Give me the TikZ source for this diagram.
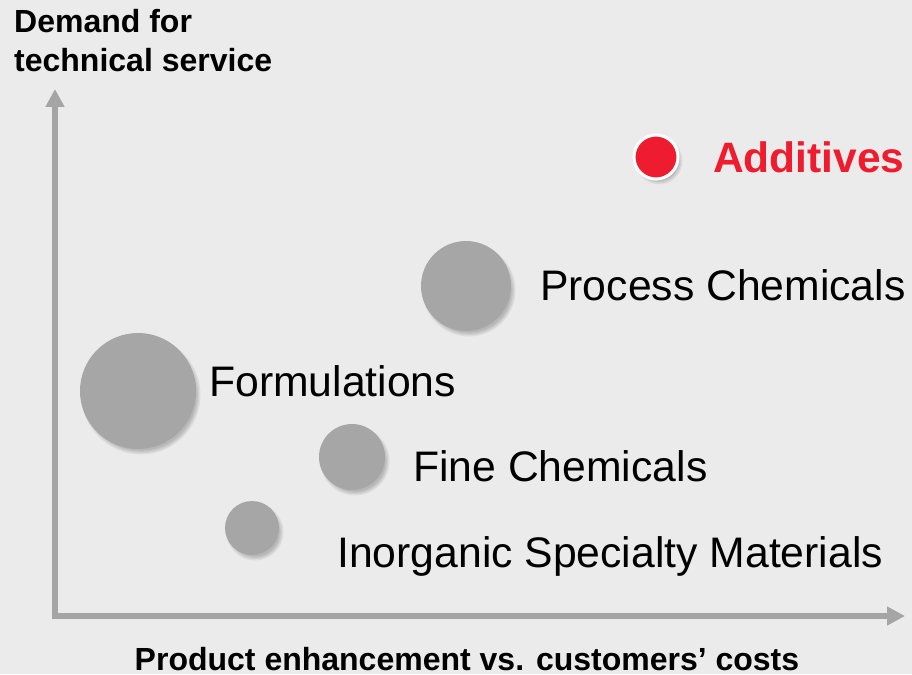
\documentclass[tikz,border=0pt]{standalone}
\usepackage{fontspec}
\setmainfont{Liberation Sans}
\usetikzlibrary{arrows.meta}
\definecolor{bg}{HTML}{EBEBEB}
\definecolor{bubgray}{HTML}{A6A6A6}
\definecolor{axisgray}{HTML}{A5A5A5}
\definecolor{addred}{HTML}{EE1C2E}
\tikzset{
  bub/.style={circle, fill=bubgray, inner sep=0pt, draw=none},
  redbub/.style={circle, fill=addred, draw=white, line width=3pt, inner sep=0pt},
  lbl/.style={anchor=base west, inner sep=0pt, font=\fontsize{42.7}{48}\selectfont},
  axlbl/.style={inner sep=0pt, font=\bfseries\fontsize{32}{39}\selectfont},
  axisline/.style={draw=axisgray, line width=6pt, line join=miter,
    {Triangle[width=18pt,length=18pt]}-{Triangle[width=18pt,length=18pt]}}
}
\newcommand{\bubshadow}[3]{%
  \foreach \k in {0,1,2,3}{\fill[black,opacity=0.06] (#1+3,#2+4) circle ({#3+1.5-\k*1.3});}%
}
\begin{document}
\begin{tikzpicture}[x=1pt,y=-1pt]
\fill[bg] (0,0) rectangle (912,674);
\useasboundingbox (0,0) rectangle (912,674);

% axes
\coordinate (ytip) at (55,89);
\coordinate (corner) at (55,616);
\coordinate (xtip) at (905,616);
\draw[axisline] (ytip) -- (corner) -- (xtip);

% bubbles
\bubshadow{656}{157}{22}
\node[redbub, minimum size=44pt] (add) at (656,157) {};
\bubshadow{466}{286}{45}
\node[bub, minimum size=90pt] (proc) at (466,286) {};
\bubshadow{138}{391}{58}
\node[bub, minimum size=116pt] (form) at (138,391) {};
\bubshadow{352}{457}{33}
\node[bub, minimum size=66pt] (fine) at (352,457) {};
\bubshadow{252}{528}{27}
\node[bub, minimum size=54pt] (inorg) at (252,528) {};

% labels
\node[lbl, text=addred, font=\bfseries\fontsize{42.5}{48}\selectfont] (addl) at (713,172) {Additives};
\node[lbl] (procl) at (540,300) {Process Chemicals};
\node[lbl] (forml) at (209,396) {Formulations};
\node[lbl] (finel) at (413,481) {Fine Chemicals};
\node[lbl] (inorgl) at (337,567) {Inorganic Specialty Materials};

% axis titles
\node[axlbl, anchor=base west] (yt1) at (14,33) {Demand for};
\node[axlbl, anchor=base west] (yt2) at (14,72) {technical service};
\node[axlbl, anchor=base] (xt) at (467,670) {Product enhancement vs. customers’ costs};
\end{tikzpicture}
\end{document}
